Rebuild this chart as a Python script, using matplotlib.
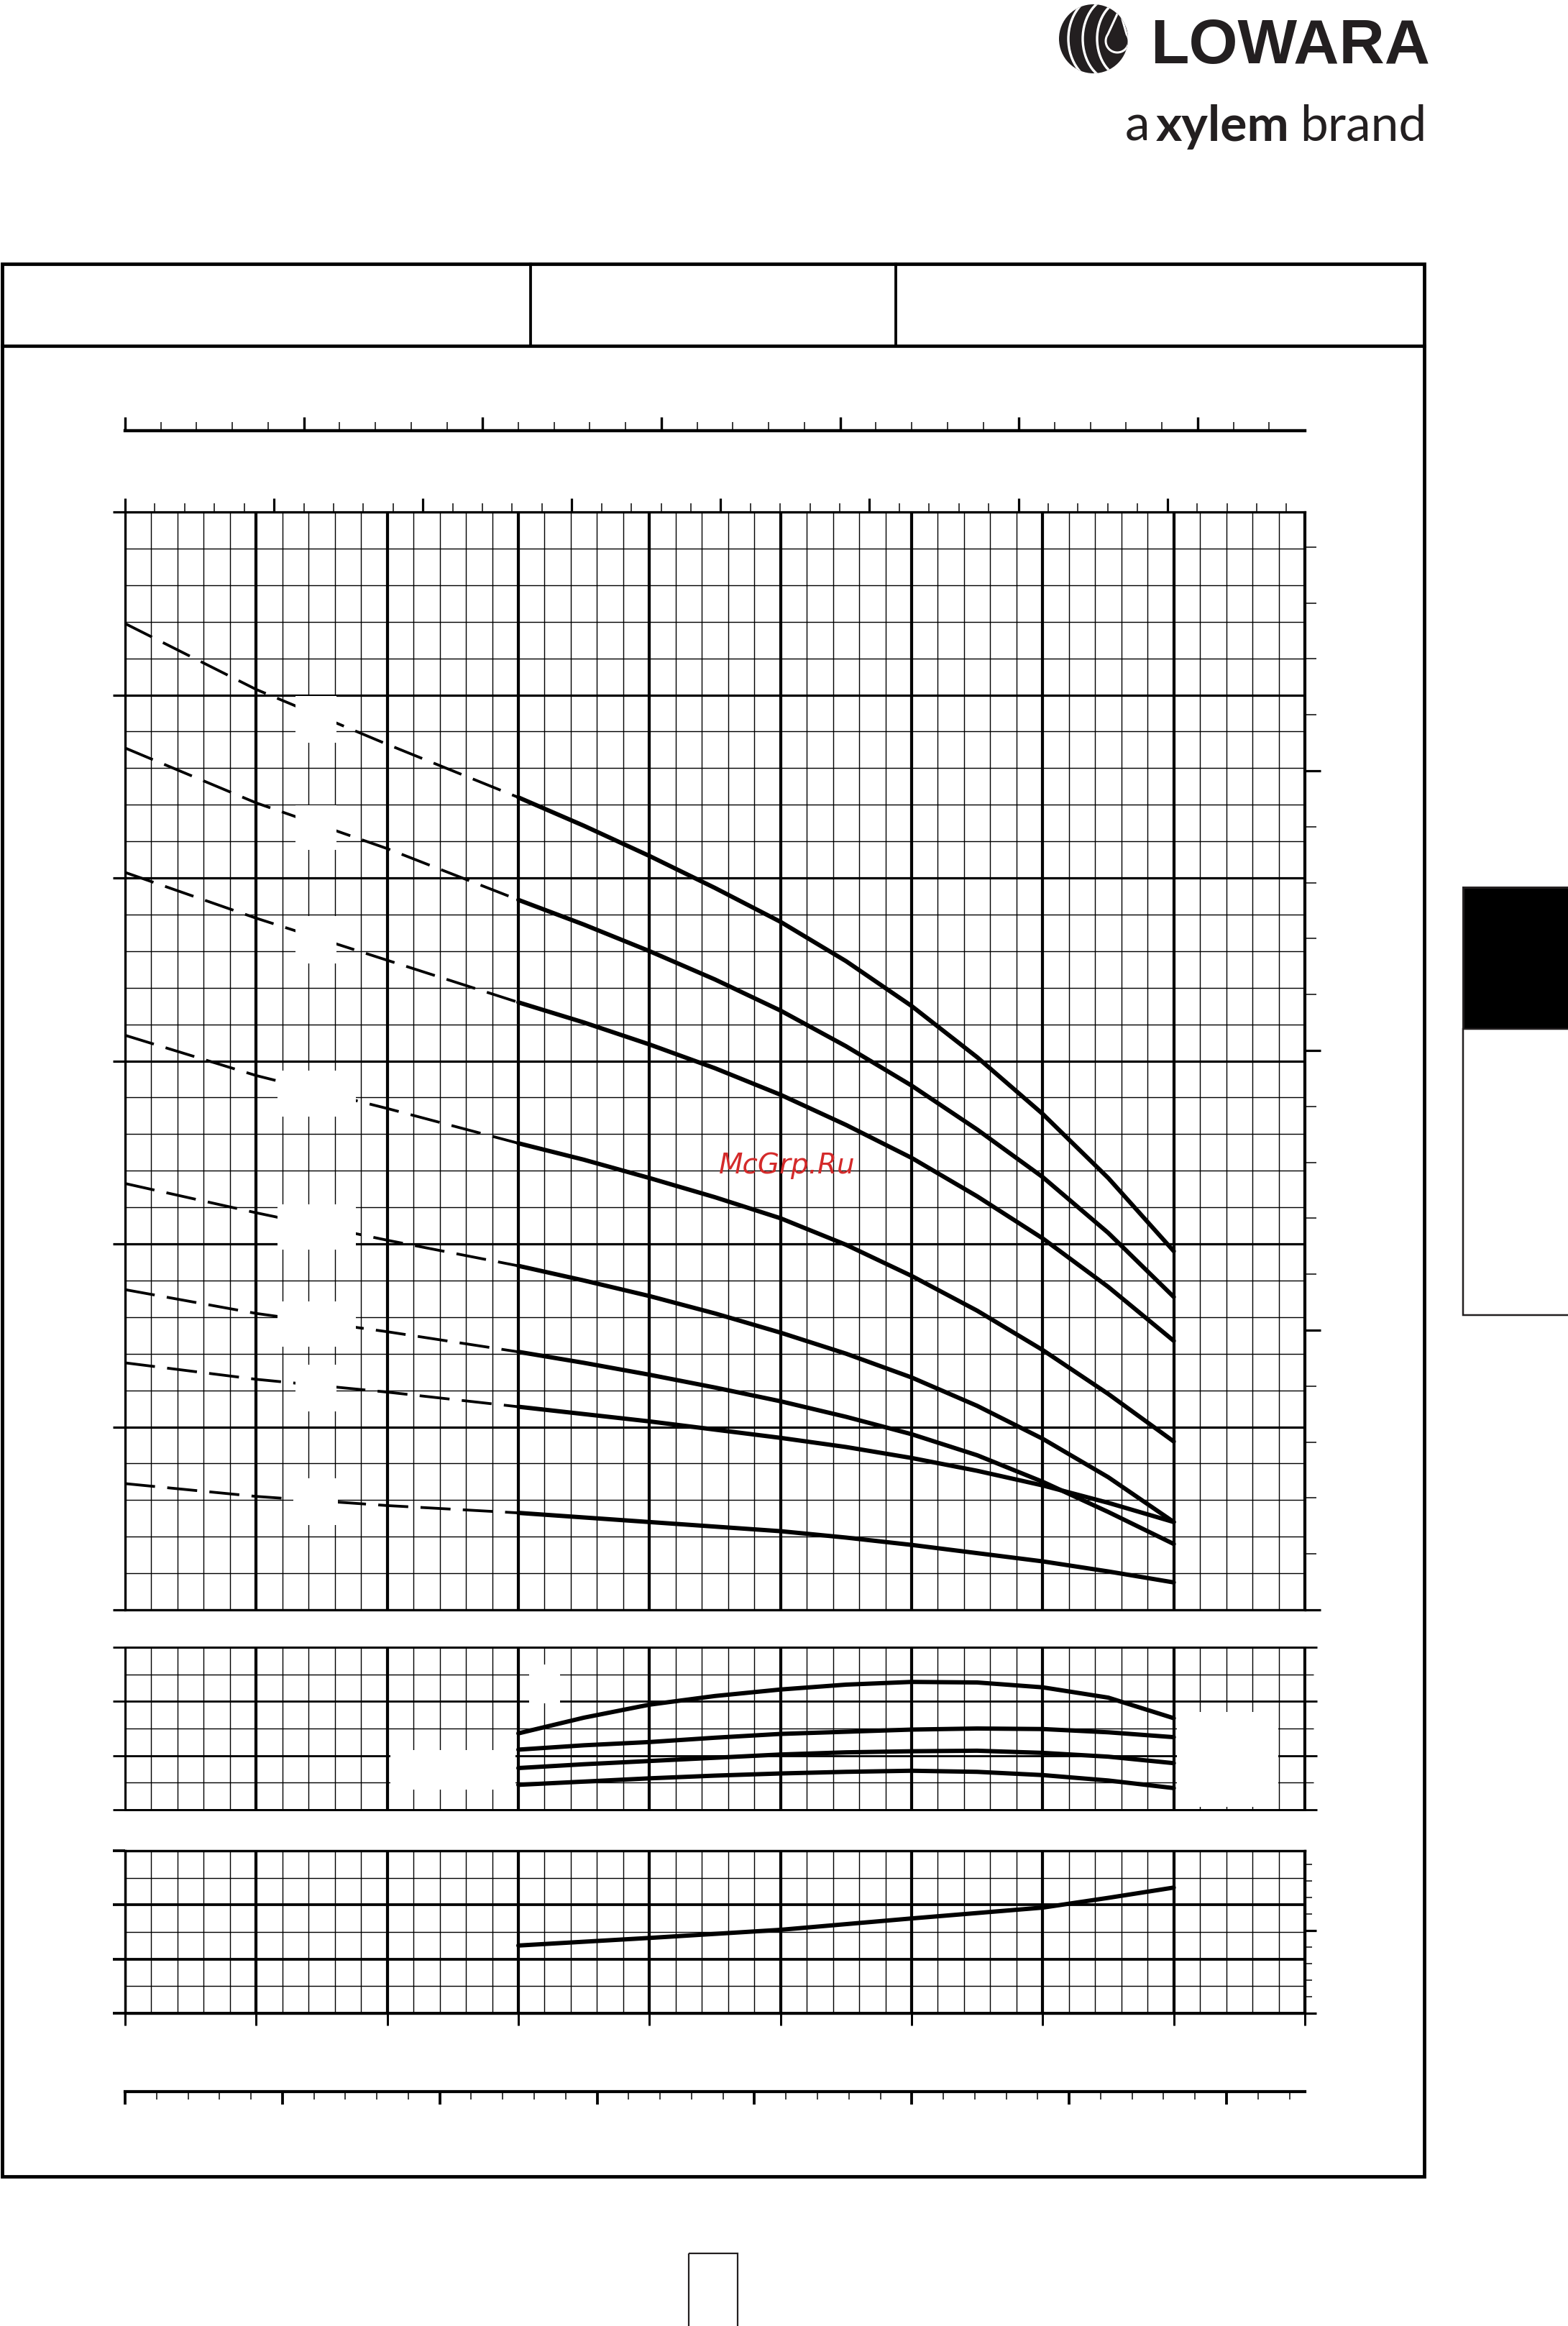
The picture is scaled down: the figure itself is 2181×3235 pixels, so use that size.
import numpy as np
import matplotlib
matplotlib.use("Agg")
import matplotlib.pyplot as plt
from matplotlib.patches import Rectangle, Circle, Arc, Polygon
from matplotlib.ticker import MultipleLocator

W, H = 2181, 3235
DPI = 100
PT = 72.0 / DPI  # one pixel expressed in points
INK = "#231f20"

# ---- data, in grid units (one major grid division = 1) ----
q_dashed = [0, 1, 2, 3]
head_dashed = [
    [5.39, 5.03, 4.73, 4.44],
    [4.71, 4.41, 4.16, 3.88],
    [4.03, 3.78, 3.55, 3.32],
    [3.14, 2.92, 2.74, 2.55],
    [2.33, 2.17, 2.02, 1.88],
    [1.75, 1.62, 1.52, 1.41],
    [1.35, 1.26, 1.19, 1.11],
    [0.69, 0.62, 0.57, 0.53],
]

q_solid = [3.0, 3.5, 4.0, 4.5, 5.0, 5.5, 6.0, 6.5, 7.0, 7.5, 8.0]
head_solid = [
    [4.44, 4.285, 4.12, 3.945, 3.76, 3.545, 3.30, 3.02, 2.71, 2.36, 1.96],
    [3.88, 3.745, 3.60, 3.445, 3.275, 3.08, 2.865, 2.625, 2.365, 2.06, 1.71],
    [3.32, 3.21, 3.09, 2.96, 2.815, 2.65, 2.47, 2.26, 2.03, 1.765, 1.47],
    [2.55, 2.46, 2.36, 2.255, 2.14, 1.995, 1.825, 1.635, 1.42, 1.18, 0.92],
    [1.88, 1.80, 1.715, 1.62, 1.515, 1.40, 1.27, 1.115, 0.935, 0.725, 0.48],
    [1.41, 1.35, 1.285, 1.215, 1.14, 1.055, 0.96, 0.845, 0.70, 0.535, 0.36],
    [1.11, 1.07, 1.03, 0.985, 0.94, 0.89, 0.83, 0.76, 0.68, 0.585, 0.48],
    [0.53, 0.505, 0.48, 0.455, 0.43, 0.395, 0.355, 0.31, 0.265, 0.21, 0.15],
]

q_eff = [3.0, 3.5, 4.0, 4.5, 5.0, 5.5, 6.0, 6.5, 7.0, 7.5, 8.0]
eff_curves = [
    [1.41, 1.70, 1.94, 2.10, 2.22, 2.31, 2.36, 2.35, 2.26, 2.07, 1.69],
    [1.11, 1.19, 1.25, 1.33, 1.40, 1.44, 1.48, 1.50, 1.49, 1.43, 1.34],
    [0.77, 0.84, 0.90, 0.96, 1.02, 1.06, 1.08, 1.09, 1.05, 0.98, 0.86],
    [0.46, 0.52, 0.58, 0.63, 0.67, 0.70, 0.72, 0.70, 0.64, 0.54, 0.40],
]

q_power = [3.0, 4.0, 5.0, 6.0, 6.5, 7.0, 7.5, 8.0]
power_curve = [1.25, 1.39, 1.54, 1.75, 1.85, 1.95, 2.13, 2.32]

# white patches left where curve labels were (pixel boxes x0, y0, x1, y1)
label_boxes = [
    (411, 968, 468, 1033), (411, 1120, 468, 1182), (411, 1274, 468, 1340),
    (386, 1489, 495, 1553), (386, 1675, 495, 1738), (386, 1810, 495, 1873),
    (411, 1898, 468, 1963), (408, 2056, 470, 2121),
    (543, 2434, 717, 2489), (736, 2315, 779, 2369), (1637, 2381, 1778, 2513),
]


def px_axes(fig, x0, y0, x1, y1, **kw):
    return fig.add_axes([x0 / W, 1 - y1 / H, (x1 - x0) / W, (y1 - y0) / H], **kw)


def style_grid(ax, ymax, y_minor, h_major_px, spine_px):
    ax.set_xlim(0, 9)
    ax.set_ylim(0, ymax)
    ax.xaxis.set_major_locator(MultipleLocator(1))
    ax.xaxis.set_minor_locator(MultipleLocator(0.2))
    ax.yaxis.set_major_locator(MultipleLocator(1))
    ax.yaxis.set_minor_locator(MultipleLocator(y_minor))
    ax.xaxis.grid(True, which="major", color="black", lw=4.2 * PT)
    ax.xaxis.grid(True, which="minor", color="black", lw=1.4 * PT)
    ax.yaxis.grid(True, which="major", color="black", lw=h_major_px * PT)
    ax.yaxis.grid(True, which="minor", color="black", lw=1.4 * PT)
    for s in ax.spines.values():
        s.set_linewidth(spine_px * PT)
    ax.tick_params(which="both", labelbottom=False, labelleft=False)
    ax.tick_params(axis="x", which="both", length=0)
    ax.tick_params(axis="y", which="major", direction="out",
                   length=17 * PT, width=h_major_px * PT)
    ax.tick_params(axis="y", which="minor", length=0)


def tick_scale(ax, span, major_px, minor_px, major_w, axis="x", side="top"):
    # extra scale drawn as ticks only (secondary units)
    if axis == "x":
        ax.set_xlim(0, span)
        loc = ax.xaxis
    else:
        ax.set_ylim(0, span)
        loc = ax.yaxis
    loc.set_major_locator(MultipleLocator(major_px[0]))
    loc.set_minor_locator(MultipleLocator(minor_px[0]))
    for s in ax.spines.values():
        s.set_visible(False)
    kw = {side: True, "direction": "out"}
    ax.tick_params(axis=axis, which="major", length=major_px[1] * PT,
                   width=major_w * PT, **kw)
    ax.tick_params(axis=axis, which="minor", length=minor_px[1] * PT,
                   width=1.5 * PT, **kw)
    ax.tick_params(axis=axis, which="both", labeltop=False, labelbottom=False,
                   labelleft=False, labelright=False)


fig = plt.figure(figsize=(W / DPI, H / DPI), dpi=DPI)

# ---- head chart ----
ax = px_axes(fig, 174, 712, 1815, 2239)
style_grid(ax, 6, 0.2, 3.2, 3.2)
for hd in head_dashed:
    ax.plot(q_dashed, hd, color="black", lw=3.8 * PT, dashes=(11, 4.5),
            dash_capstyle="butt", zorder=3)
for hs in head_solid:
    ax.plot(q_solid, hs, color="black", lw=6.0 * PT, solid_capstyle="round",
            solid_joinstyle="round", zorder=3)

top = ax.twiny()
tick_scale(top, 1641 / 207.1, (1, 19), (0.2, 12), 3.2, axis="x", side="top")
top.tick_params(axis="x", which="both", bottom=False)
right = ax.twinx()
tick_scale(right, 1527 / 77.8, (5, 22), (1, 16), 3.2, axis="y", side="right")
right.tick_params(axis="y", which="both", left=False)

# ---- efficiency chart ----
axe = px_axes(fig, 174, 2291, 1815, 2517)
style_grid(axe, 3, 0.5, 2.8, 3.0)
axe.tick_params(axis="y", which="major", right=True)
axe.tick_params(axis="y", which="minor", left=False, right=True,
                direction="out", length=12 * PT, width=1.4 * PT)
for ec in eff_curves:
    axe.plot(q_eff, ec, color="black", lw=6.0 * PT, solid_capstyle="round",
             solid_joinstyle="round", zorder=3)

# ---- power chart ----
axp = px_axes(fig, 174, 2574, 1815, 2800)
style_grid(axp, 3, 0.5, 3.8, 3.4)
axp.tick_params(axis="x", which="major", bottom=True, direction="out",
                length=17 * PT, width=3.0 * PT)
axp.plot(q_power, power_curve, color="black", lw=6.0 * PT,
         solid_capstyle="round", solid_joinstyle="round", zorder=3)
pr = axp.twinx()
tick_scale(pr, 226 / 23.04, (5, 16), (1, 10), 3.2, axis="y", side="right")
pr.tick_params(axis="y", which="both", left=False)

# ---- separate flow scales above and below ----
sc_top = px_axes(fig, 174, 560, 1815, 599)
sc_top.set_xlim(0, 1641 / 248.65)
sc_top.xaxis.set_major_locator(MultipleLocator(1))
sc_top.xaxis.set_minor_locator(MultipleLocator(0.2))
for name, s in sc_top.spines.items():
    s.set_visible(name == "bottom")
sc_top.spines["bottom"].set_linewidth(4.4 * PT)
sc_top.tick_params(axis="x", which="major", direction="in", length=19 * PT,
                   width=3.4 * PT, labelbottom=False)
sc_top.tick_params(axis="x", which="minor", direction="in", length=12 * PT,
                   width=1.5 * PT)
sc_top.set_yticks([])
sc_top.patch.set_visible(False)

sc_bot = px_axes(fig, 174, 2870, 1815, 2909)
sc_bot.set_xlim(0, 1641 / 218.86)
sc_bot.xaxis.set_major_locator(MultipleLocator(1))
sc_bot.xaxis.set_minor_locator(MultipleLocator(0.2))
for name, s in sc_bot.spines.items():
    s.set_visible(name == "bottom")
sc_bot.spines["bottom"].set_linewidth(4.2 * PT)
sc_bot.tick_params(axis="x", which="major", direction="out", length=18 * PT,
                   width=3.8 * PT, labelbottom=False)
sc_bot.tick_params(axis="x", which="minor", direction="out", length=11 * PT,
                   width=1.5 * PT)
sc_bot.set_yticks([])
sc_bot.patch.set_visible(False)

# ---- page furniture (pixel overlay) ----
ov = fig.add_axes([0, 0, 1, 1], zorder=10)
ov.set_xlim(0, W)
ov.set_ylim(H, 0)
ov.axis("off")
ov.patch.set_visible(False)

for x0, y0, x1, y1 in label_boxes:
    ov.add_patch(Rectangle((x0, y0), x1 - x0, y1 - y0, fc="white", ec="none"))

ov.add_patch(Rectangle((2.5, 367), 1978.5, 2660, fill=False, ec="black",
                       lw=4.8 * PT))
ov.plot([2.5, 1981], [481, 481], color="black", lw=4.6 * PT)
ov.plot([738, 738], [367, 481], color="black", lw=3.8 * PT)
ov.plot([1246, 1246], [367, 481], color="black", lw=3.8 * PT)

# side tab
ov.add_patch(Rectangle((2035, 1234), 170, 197, fc="black", ec=INK, lw=3 * PT))
ov.add_patch(Rectangle((2035, 1431), 170, 398, fc="white", ec=INK, lw=2.5 * PT))

# page number box
ov.add_patch(Rectangle((958, 3134), 68, 130, fill=False, ec=INK, lw=2.2 * PT))

# logo
disc = Circle((1521, 54), 48, fc=INK, ec="none")
ov.add_patch(disc)
for cx, rx, ry in [(1533, 47, 60), (1549, 43, 58), (1566, 40, 54)]:
    arc = Arc((cx, 54), 2 * rx, 2 * ry, theta1=90, theta2=270, ec="white",
              lw=3.4 * PT)
    ov.add_patch(arc)
    arc.set_clip_path(disc)
t = np.radians(np.linspace(-35, 215, 40))
drop = np.column_stack([1554 + 16 * np.cos(t), 57 + 16 * np.sin(t)])
drop = np.vstack([drop, [[1557, 13]]])
dp = Polygon(drop, closed=True, fc=INK, ec="white", lw=3 * PT)
ov.add_patch(dp)
dp.set_clip_path(disc)

ov.text(1600, 88, "LOWARA", ha="left", va="baseline", fontsize=63,
        fontweight="bold", color=INK, family=["Liberation Sans", "DejaVu Sans"])
ov.text(1565, 196, "a", ha="left", va="baseline", fontsize=50, color=INK,
        family=["Lato", "DejaVu Sans"])
ov.text(1608, 196, "xylem", ha="left", va="baseline", fontsize=50,
        fontweight="bold", color=INK, family=["Lato", "DejaVu Sans"])
ov.text(1808, 196, "brand", ha="left", va="baseline", fontsize=50, color=INK,
        family=["Lato", "DejaVu Sans"])

ov.text(1095, 1621, "McGrp.Ru", ha="center", va="center", fontsize=28,
        style="italic", color="#d42a2a", family="DejaVu Sans")

fig.savefig("out.png", dpi=DPI, facecolor="white")
